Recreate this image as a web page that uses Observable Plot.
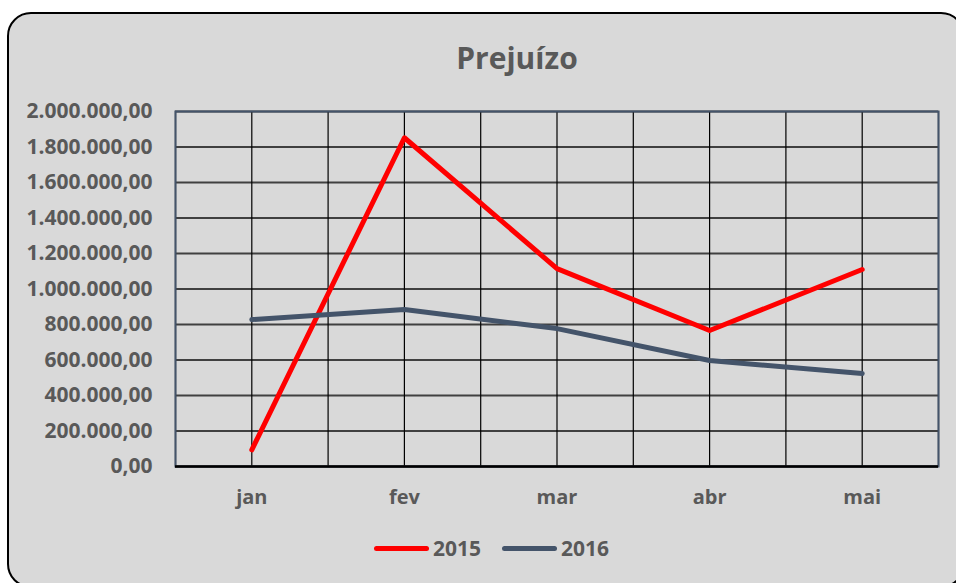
<!DOCTYPE html>
<html>
<head>
<meta charset="utf-8">
<script src="https://cdn.jsdelivr.net/npm/d3@7"></script>
<script src="https://cdn.jsdelivr.net/npm/@observablehq/plot@0.6"></script>
<style>
  html, body { margin: 0; padding: 0; background: #ffffff; width: 956px; height: 583px; overflow: hidden; }
  #box { position: absolute; left: 7px; top: 12px; width: 954px; height: 572px; background: #d9d9d9;
         border: 2px solid #000; border-radius: 24px; }
  #title { position: absolute; left: 0; width: 1034px; top: 37px; text-align: center;
           font: bold 30px "Open Sans", sans-serif; color: #595959; }
  #chart { position: absolute; left: 0; top: 90px; }
  #legend { position: absolute; top: 534px; left: 374px; display: flex; align-items: center;
            font: bold 21px "Open Sans", sans-serif; color: #595959; }
  .sw { width: 55px; height: 5px; border-radius: 3px; margin-right: 4px; }
  .item { display: flex; align-items: center; margin-right: 21px; }
</style>
</head>
<body>
<div id="box"></div>
<div id="title">Prejuízo</div>
<div id="chart"></div>
<div id="legend"></div>
<script>
const months = ["jan", "fev", "mar", "abr", "mai"];
const s2015 = [94000, 1852000, 1115000, 766000, 1110000];
const s2016 = [828000, 885000, 777000, 597000, 524000];
const seriesNames = ["2015", "2016"];
const seriesColors = ["#ff0000", "#44546a"];
const yTicks = [0, 200000, 400000, 600000, 800000, 1000000, 1200000, 1400000, 1600000, 1800000, 2000000];

const fmt = d3.formatLocale({decimal: ",", thousands: ".", grouping: [3], currency: ["R$", ""]}).format(",.2f");

const rows = [];
months.forEach((m, i) => {
  rows.push({i, month: m, value: s2015[i], series: seriesNames[0]});
  rows.push({i, month: m, value: s2016[i], series: seriesNames[1]});
});
const xIdx = months.map((m, i) => i);
const xGrid = d3.range(-0.5, months.length, 0.5);

const chart = Plot.plot({
  width: 956,
  height: 430,
  marginLeft: 175,
  marginRight: 18,
  marginTop: 21,
  marginBottom: 54,
  style: {background: "transparent", fontFamily: "'Open Sans', sans-serif", fontSize: "20px", fontWeight: "bold", color: "#595959"},
  x: {domain: [-0.5, months.length - 0.5], ticks: xIdx, tickFormat: i => months[i], tickSize: 0, tickPadding: 22, label: null},
  y: {domain: [0, 2000000], ticks: yTicks, tickFormat: fmt, tickSize: 0, tickPadding: 23, label: null},
  color: {domain: seriesNames, range: seriesColors},
  marks: [
    Plot.gridY(yTicks, {stroke: "#404040", strokeOpacity: 1, strokeWidth: 2}),
    Plot.gridX(xGrid, {stroke: "#000", strokeOpacity: 1, strokeWidth: 1.2}),
    Plot.frame({stroke: "#44546a", strokeWidth: 2}),
    Plot.ruleY([0], {stroke: "#000", strokeWidth: 2.5}),
    Plot.axisY({ticks: yTicks, tickFormat: fmt, tickSize: 0, tickPadding: 23, fontSize: 21, fontWeight: "bold", fill: "#595959"}),
    Plot.axisX({ticks: xIdx, tickFormat: i => months[i], tickSize: 0, tickPadding: 23, fontSize: 20, fontWeight: "bold", fill: "#595959"}),
    Plot.line(rows, {x: "i", y: "value", z: "series", stroke: "series", strokeWidth: 5, strokeLinecap: "round", strokeLinejoin: "round"})
  ]
});
document.getElementById("chart").appendChild(chart);

const legend = document.getElementById("legend");
seriesNames.forEach((n, k) => {
  const item = document.createElement("div");
  item.className = "item";
  const sw = document.createElement("div");
  sw.className = "sw";
  sw.style.background = seriesColors[k];
  const t = document.createElement("span");
  t.textContent = n;
  item.appendChild(sw);
  item.appendChild(t);
  legend.appendChild(item);
});
</script>
</body>
</html>
